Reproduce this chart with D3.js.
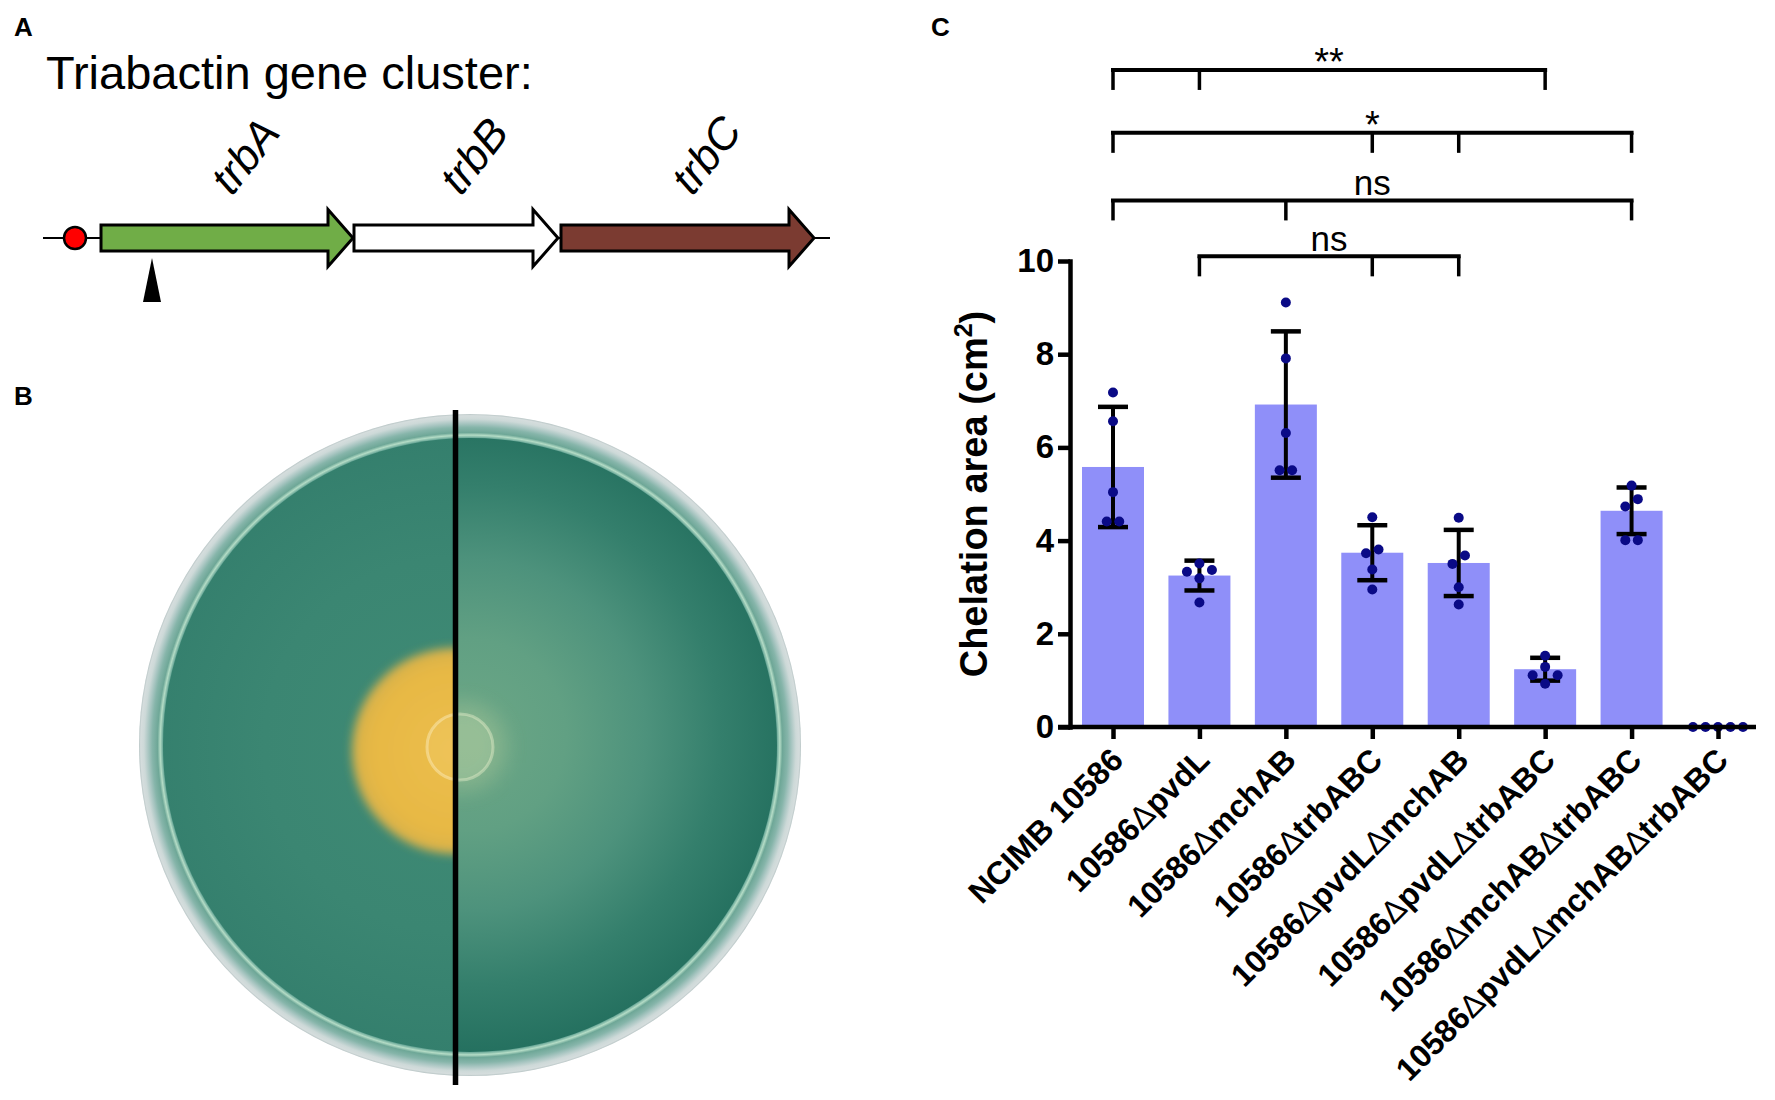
<!DOCTYPE html>
<html>
<head>
<meta charset="utf-8">
<script src="https://cdn.jsdelivr.net/npm/d3@7"></script>
<style>
  body { margin: 0; background: #ffffff; }
  svg { display: block; }
</style>
</head>
<body>
<svg id="fig" width="1775" height="1100"></svg>
<script>
// ---------------- DATA ----------------
const categories = ["NCIMB 10586", "10586ΔpvdL", "10586ΔmchAB", "10586ΔtrbABC",
  "10586ΔpvdLΔmchAB", "10586ΔpvdLΔtrbABC", "10586ΔmchABΔtrbABC", "10586ΔpvdLΔmchABΔtrbABC"];
const meanValues = [5.58, 3.25, 6.92, 3.74, 3.52, 1.24, 4.64, 0];
const sdValues = [1.29, 0.32, 1.57, 0.59, 0.71, 0.245, 0.5, 0];
const replicateValues = [
  [7.18, 6.56, 5.04, 4.41, 4.41],
  [3.51, 3.37, 3.33, 3.19, 2.67],
  [9.11, 7.91, 6.31, 5.51, 5.51],
  [4.50, 3.81, 3.73, 3.38, 2.95],
  [4.49, 3.68, 3.50, 3.00, 2.63],
  [1.53, 1.29, 1.11, 1.11, 0.93],
  [5.18, 4.89, 4.73, 4.01, 4.01],
  [0, 0, 0, 0, 0]
];
const yTicks = [0, 2, 4, 6, 8, 10];
const sigLabels = ["**", "*", "ns", "ns"];
const sigGroups = [[0, 1, 5], [0, 3, 4, 6], [0, 2, 6], [1, 3, 4]];
const sigHeights = [14.1, 12.75, 11.3, 10.1];   // bracket heights in y-axis units

const geneNames = ["trbA", "trbB", "trbC"];
const geneStarts = [58, 311, 518];               // relative positions on the locus
const geneEnds = [310, 515, 771];
const geneColors = ["#70ad47", "#ffffff", "#7b3b31"];
const locusExtent = [0, 787];
const promoterPos = 32;
const insertionPos = 109;

// ---------------- SETUP ----------------
const svg = d3.select("#fig");
const SANS = "'Liberation Sans', Arial, Helvetica, sans-serif";
const NARROW = "'Liberation Sans Narrow', 'Arial Narrow', 'Liberation Sans', Arial, sans-serif";
const defs = svg.append("defs");

// Panel letters
[["A", 14, 36], ["B", 14, 405], ["C", 931, 36]].forEach(([t, x, yy]) => {
  svg.append("text").attr("x", x).attr("y", yy).attr("font-family", SANS)
    .attr("font-weight", 700).attr("font-size", 26).attr("fill", "#000").text(t);
});

// ---------------- PANEL A: gene cluster ----------------
svg.append("text").attr("x", 46).attr("y", 89).attr("font-family", SANS)
  .attr("font-size", 47).attr("fill", "#000").text("Triabactin gene cluster:");

const gx = d3.scaleLinear().domain(locusExtent).range([43, 830]);
const gA = svg.append("g");
const midY = 238, bodyH = 13, headH = 28.5, headL = 25;
gA.append("line").attr("x1", gx(locusExtent[0])).attr("x2", gx(locusExtent[1]))
  .attr("y1", midY).attr("y2", midY).attr("stroke", "#000").attr("stroke-width", 2);

geneNames.forEach((name, i) => {
  const s = gx(geneStarts[i]), e = gx(geneEnds[i]), hb = e - headL;
  const p = d3.path();
  p.moveTo(s, midY - bodyH); p.lineTo(hb, midY - bodyH); p.lineTo(hb, midY - headH);
  p.lineTo(e, midY); p.lineTo(hb, midY + headH); p.lineTo(hb, midY + bodyH);
  p.lineTo(s, midY + bodyH); p.closePath();
  gA.append("path").attr("d", p.toString()).attr("fill", geneColors[i])
    .attr("stroke", "#000").attr("stroke-width", 3).attr("stroke-linejoin", "miter");
  const lx = (s + e) / 2 + 5;
  gA.append("text").attr("transform", `translate(${lx},${197}) rotate(-52)`)
    .attr("font-family", SANS).attr("font-style", "italic").attr("font-size", 44)
    .attr("fill", "#000").text(name);
});
gA.append("circle").attr("cx", gx(promoterPos)).attr("cy", midY).attr("r", 11)
  .attr("fill", "#ff0000").attr("stroke", "#000").attr("stroke-width", 2.5);
const ix = gx(insertionPos);
gA.append("path").attr("d", `M${ix},258 L${ix + 9},302 L${ix - 9},302 Z`).attr("fill", "#000");

// ---------------- PANEL B: plate photo (drawn) ----------------
const cx0 = 470, cy0 = 745, rOuter = 331, rAgar = 307, splitX = 455.5;

const rimGrad = defs.append("radialGradient").attr("id", "rimG")
  .attr("gradientUnits", "userSpaceOnUse").attr("cx", cx0).attr("cy", cy0).attr("r", rOuter);
[[0.915, "#3a8672"], [0.928, "#6aa898"], [0.936, "#b4dcc6"], [0.944, "#6ea797"],
 [0.96, "#86b5aa"], [0.972, "#a9c6c2"], [0.985, "#cdd9d8"], [0.995, "#d5dddd"], [1, "#b9c6c6"]].forEach(([o, c]) =>
  rimGrad.append("stop").attr("offset", o).attr("stop-color", c));

const agarLG = defs.append("radialGradient").attr("id", "agarL")
  .attr("gradientUnits", "userSpaceOnUse").attr("cx", 450).attr("cy", 745).attr("r", 310);
[[0, "#3f8b75"], [0.6, "#3b8672"], [1, "#347f6d"]].forEach(([o, c]) =>
  agarLG.append("stop").attr("offset", o).attr("stop-color", c));

const agarRG = defs.append("radialGradient").attr("id", "agarR")
  .attr("gradientUnits", "userSpaceOnUse").attr("cx", 470).attr("cy", 735).attr("r", 320);
[[0, "#6ca786"], [0.3, "#61a083"], [0.55, "#4d927c"], [0.78, "#347f6c"], [1, "#24705f"]].forEach(([o, c]) =>
  agarRG.append("stop").attr("offset", o).attr("stop-color", c));

const yelG = defs.append("radialGradient").attr("id", "yelG");
[[0, "#ecbe4c"], [0.8, "#e7b844"], [1, "#d6b14c"]].forEach(([o, c]) =>
  yelG.append("stop").attr("offset", o).attr("stop-color", c));

const blur = defs.append("filter").attr("id", "soft").attr("x", "-20%").attr("y", "-20%")
  .attr("width", "140%").attr("height", "140%");
blur.append("feGaussianBlur").attr("stdDeviation", 5);
const blur2 = defs.append("filter").attr("id", "soft2").attr("x", "-50%").attr("y", "-50%")
  .attr("width", "200%").attr("height", "200%");
blur2.append("feGaussianBlur").attr("stdDeviation", 10);

defs.append("clipPath").attr("id", "agarClip").append("circle")
  .attr("cx", cx0).attr("cy", cy0).attr("r", rAgar);
defs.append("clipPath").attr("id", "leftClip").append("rect")
  .attr("x", 0).attr("y", 0).attr("width", splitX).attr("height", 1100);
defs.append("clipPath").attr("id", "rightClip").append("rect")
  .attr("x", splitX).attr("y", 0).attr("width", 600).attr("height", 1100);

const gB = svg.append("g");
gB.append("circle").attr("cx", cx0).attr("cy", cy0).attr("r", rOuter).attr("fill", "url(#rimG)");
const agar = gB.append("g").attr("clip-path", "url(#agarClip)");
const left = agar.append("g").attr("clip-path", "url(#leftClip)");
left.append("rect").attr("x", cx0 - rAgar).attr("y", cy0 - rAgar).attr("width", 2 * rAgar)
  .attr("height", 2 * rAgar).attr("fill", "url(#agarL)");
left.append("circle").attr("cx", 455).attr("cy", 751).attr("r", 103)
  .attr("fill", "url(#yelG)").attr("filter", "url(#soft)");
left.append("circle").attr("cx", 460).attr("cy", 747).attr("r", 33)
  .attr("fill", "rgba(255,245,200,0.10)").attr("stroke", "rgba(255,245,210,0.4)").attr("stroke-width", 3);
const right = agar.append("g").attr("clip-path", "url(#rightClip)");
right.append("rect").attr("x", cx0 - rAgar).attr("y", cy0 - rAgar).attr("width", 2 * rAgar)
  .attr("height", 2 * rAgar).attr("fill", "url(#agarR)");
right.append("circle").attr("cx", 462).attr("cy", 747).attr("r", 45)
  .attr("fill", "#b9cf9c").attr("opacity", 0.35).attr("filter", "url(#soft2)");
right.append("circle").attr("cx", 460).attr("cy", 747).attr("r", 33)
  .attr("fill", "rgba(240,245,200,0.15)").attr("stroke", "rgba(240,245,210,0.4)").attr("stroke-width", 3);
gB.append("line").attr("x1", splitX).attr("x2", splitX).attr("y1", 410).attr("y2", 1085)
  .attr("stroke", "#000").attr("stroke-width", 5.5);

// ---------------- PANEL C: bar chart ----------------
const y = d3.scaleLinear().domain([0, 10]).range([727, 261]);
const x = d3.scalePoint().domain(categories).range([1113, 1718]);
const barW = 62;
const gC = svg.append("g");

// bars
gC.selectAll("rect.bar").data(categories).join("rect").attr("class", "bar")
  .attr("x", d => x(d) - barW / 2).attr("width", barW)
  .attr("y", (d, i) => y(meanValues[i])).attr("height", (d, i) => y(0) - y(meanValues[i]))
  .attr("fill", "#8f8ff9");

// error bars
categories.forEach((c, i) => {
  if (sdValues[i] <= 0) return;
  const cx = x(c), top = y(meanValues[i] + sdValues[i]), bot = y(meanValues[i] - sdValues[i]);
  gC.append("line").attr("x1", cx).attr("x2", cx).attr("y1", top).attr("y2", bot)
    .attr("stroke", "#000").attr("stroke-width", 4);
  [top, bot].forEach(yy => gC.append("line").attr("x1", cx - 15).attr("x2", cx + 15)
    .attr("y1", yy).attr("y2", yy).attr("stroke", "#000").attr("stroke-width", 4.5));
});

// axes
const yAxis = d3.axisLeft(y).tickValues(yTicks).tickSize(12).tickSizeOuter(0).tickPadding(4);
const gy = svg.append("g").attr("transform", "translate(1070,0)").call(yAxis);
gy.select(".domain").attr("stroke-width", 4.5).attr("stroke-linecap", "square");
gy.selectAll(".tick line").attr("stroke-width", 4.5);
gy.selectAll(".tick text").attr("font-family", NARROW).attr("font-weight", 700)
  .attr("font-size", 33).attr("fill", "#000");

const xAxis = d3.axisBottom(x).tickSize(12).tickSizeOuter(0).tickFormat("");
const gxa = svg.append("g").attr("transform", "translate(0,727)").call(xAxis);
gxa.select(".domain").remove();
gxa.selectAll(".tick line").attr("stroke-width", 4.5);
gxa.append("line").attr("x1", 1058).attr("x2", 1756).attr("y1", 0).attr("y2", 0)
  .attr("stroke", "#000").attr("stroke-width", 4.5);

// x labels
categories.forEach(c => {
  const t = svg.append("text").attr("transform", `translate(${x(c) + 12},762) rotate(-45)`)
    .attr("text-anchor", "end").attr("font-family", SANS).attr("font-weight", 700)
    .attr("font-size", 32).attr("fill", "#000");
  c.split("Δ").forEach((part, k) => {
    if (k > 0) t.append("tspan").attr("font-weight", 400).text("Δ");
    t.append("tspan").text(part);
  });
});

// y title
const yt = svg.append("text").attr("transform", "translate(987,494) rotate(-90)")
  .attr("text-anchor", "middle").attr("font-family", SANS).attr("font-weight", 700)
  .attr("font-size", 38).attr("fill", "#000");
yt.append("tspan").text("Chelation area (cm");
yt.append("tspan").attr("font-size", 25).attr("dy", -15).text("2");
yt.append("tspan").attr("dy", 15).text(")");

// replicate dots (beeswarm rows)
function swarm(vals, cx) {
  const r = 4.5, s = 12.5;
  const sorted = vals.map(v => v).sort((a, b) => b - a);
  const rows = []; let cur = null;
  sorted.forEach(v => {
    if (cur && Math.abs(y(cur[0]) - y(v)) < 2 * r) cur.push(v);
    else { cur = [v]; rows.push(cur); }
  });
  const out = [];
  rows.forEach(row => {
    const n = row.length;
    row.forEach((v, k) => {
      let off;
      if (n % 2) off = k === 0 ? 0 : (k % 2 ? 1 : -1) * Math.ceil(k / 2) * s;
      else off = (k % 2 ? -1 : 1) * (Math.floor(k / 2) + 0.5) * s;
      out.push({ x: cx + off, y: y(v) });
    });
  });
  return out;
}
categories.forEach((c, i) => {
  swarm(replicateValues[i], x(c)).forEach(p => {
    gC.append("circle").attr("cx", p.x).attr("cy", p.y).attr("r", 5).attr("fill", "#0a0a86");
  });
});

// significance brackets
sigLabels.forEach((lab, i) => {
  const grp = sigGroups[i];
  const yy = y(sigHeights[i]);
  const x1 = x(categories[grp[0]]), x2 = x(categories[grp[grp.length - 1]]);
  gC.append("line").attr("x1", x1).attr("x2", x2).attr("y1", yy).attr("y2", yy)
    .attr("stroke", "#000").attr("stroke-width", 4).attr("stroke-linecap", "square");
  grp.forEach(g => gC.append("line").attr("x1", x(categories[g])).attr("x2", x(categories[g]))
    .attr("y1", yy).attr("y2", yy + 20).attr("stroke", "#000").attr("stroke-width", 3.5));
  const isStar = lab.indexOf("*") >= 0;
  gC.append("text").attr("x", (x1 + x2) / 2).attr("y", isStar ? yy + 5 : yy - 5.5)
    .attr("text-anchor", "middle").attr("font-family", NARROW)
    .attr("font-size", isStar ? 38 : 35).attr("fill", "#000").text(lab);
});
</script>
</body>
</html>
